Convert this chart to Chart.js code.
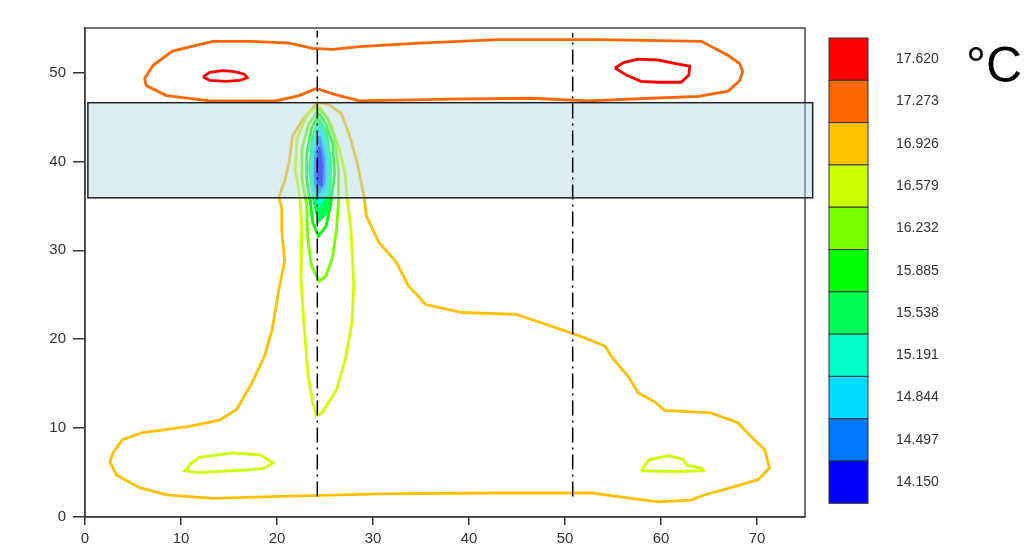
<!DOCTYPE html>
<html>
<head>
<meta charset="utf-8">
<script src="https://cdn.jsdelivr.net/npm/chart.js@4.4.1/dist/chart.umd.min.js"></script>
<style>
  body { margin: 0; background: #fff; }
  canvas { display: block; }
</style>
</head>
<body>
<canvas id="contourChart" width="1025" height="551"></canvas>
<script>
// temperature levels (°C), top to bottom as in the colour bar
const levels = ['17.620', '17.273', '16.926', '16.579', '16.232', '15.885', '15.538', '15.191', '14.844', '14.497', '14.150'];
const levelColors = ['#FF0000', '#FF6600', '#FFC000', '#CCFF00', '#77FF00', '#00FF00', '#00FF55', '#00FFC8', '#00DDFF', '#0077FF', '#0000FF'];

const xTicks = [0, 10, 20, 30, 40, 50, 60, 70];
const yTicks = [0, 10, 20, 30, 40, 50];

// measuring sections (dash-dot lines)
const sectionX = [24.2, 50.8];
const sectionY = [[2.3, 54.7], [2.3, 54.4]];

// shaded band
const bandX = [0.3, 75.8];
const bandY = [35.9, 46.6];

// contour traces, [x, y]
const top17273 = [[6.2, 49.3], [7.1, 50.8], [9.1, 52.4], [13.3, 53.5], [17.4, 53.5], [21.3, 53.3], [23.7, 52.7],
  [25.8, 52.6], [28.6, 52.9], [34.8, 53.3], [43.1, 53.7], [53.5, 53.7], [64.2, 53.5], [67.0, 51.9], [68.2, 51.0],
  [68.5, 50.1], [68.2, 49.1], [67.0, 47.9], [63.9, 47.3], [59.0, 47.1], [52.4, 46.8], [46.5, 47.1], [37.9, 47.0],
  [28.6, 46.8], [25.8, 47.6], [24.1, 48.2], [22.3, 47.4], [19.9, 46.8], [13.0, 46.8], [8.5, 47.4], [6.4, 48.5]];
const left17620 = [[12.3, 49.5], [13.0, 50.0], [14.3, 50.2], [15.6, 50.1], [16.6, 49.8], [16.9, 49.4], [16.1, 49.1],
  [14.7, 49.0], [13.0, 49.1]];
const right17620 = [[55.2, 50.5], [56.1, 51.1], [57.6, 51.5], [59.7, 51.4], [61.5, 51.0], [63.0, 50.7], [62.9, 49.7],
  [62.1, 48.9], [59.7, 48.9], [57.9, 49.0], [56.4, 49.7]];
const main16926 = [[24.2, 46.6], [22.6, 44.6], [21.6, 42.8], [21.3, 40.1], [20.8, 37.8], [20.2, 36.0], [20.5, 34.7],
  [20.5, 32.1], [20.8, 28.8], [20.2, 25.6], [19.5, 21.1], [18.7, 18.1], [17.4, 15.1], [15.8, 12.1], [14.0, 10.9],
  [10.9, 10.2], [6.0, 9.5], [3.9, 8.7], [2.9, 7.2], [2.6, 6.2], [3.3, 4.7], [5.7, 3.3], [8.5, 2.5], [13.3, 2.1],
  [19.5, 2.3], [30.6, 2.6], [43.1, 2.7], [52.8, 2.7], [56.9, 2.1], [59.7, 1.7], [63.1, 1.9], [64.6, 2.5], [67.3, 3.3],
  [70.1, 4.2], [71.3, 5.5], [70.8, 7.6], [69.9, 8.5], [68.0, 10.6], [65.2, 11.7], [60.4, 12.0], [59.4, 12.9],
  [57.6, 14.0], [56.6, 15.8], [54.8, 18.1], [54.2, 19.2], [52.4, 20.0], [50.4, 20.8], [44.9, 22.8], [39.3, 23.0],
  [35.5, 23.9], [33.7, 26.0], [32.4, 28.7], [30.6, 30.9], [29.3, 33.9], [29.1, 35.9], [28.3, 40.1], [27.5, 43.1],
  [26.7, 45.4], [25.4, 46.4]];
const left16579 = [[10.9, 5.9], [11.9, 6.7], [15.4, 7.2], [18.2, 7.0], [19.6, 6.1], [18.7, 5.5], [17.1, 5.3],
  [11.9, 5.0], [10.4, 5.2], [10.7, 5.5]];
const right16579 = [[57.9, 5.2], [58.7, 6.4], [60.7, 6.9], [62.3, 6.5], [62.7, 5.8], [64.2, 5.5], [64.4, 5.2], [61.8, 5.1]];
const plume16579 = [[24.4, 46.2], [23.2, 45.4], [22.1, 42.6], [21.9, 39.2], [22.4, 35.9], [22.6, 32.1], [22.5, 26.7],
  [22.8, 21.9], [23.2, 16.3], [23.7, 12.9], [24.1, 11.4], [24.7, 11.7], [26.2, 14.3], [27.2, 18.1], [27.8, 21.9],
  [28.0, 26.0], [27.7, 32.4], [27.3, 35.9], [27.1, 38.6], [26.5, 41.4], [25.6, 44.2]];
const plume16232 = [[24.4, 45.9], [23.3, 44.2], [22.6, 41.4], [22.6, 38.0], [23.1, 35.0], [23.2, 31.3], [23.6, 28.2],
  [24.4, 26.5], [25.1, 27.1], [25.8, 29.3], [26.2, 32.4], [26.4, 35.4], [26.4, 39.2], [26.0, 42.6], [25.2, 45.0]];
const plume15885 = [[24.4, 45.4], [23.6, 43.7], [23.1, 40.9], [23.1, 38.0], [23.5, 35.2], [23.7, 33.2], [24.3, 31.6],
  [25.1, 32.7], [25.6, 35.2], [26.0, 38.6], [25.8, 42.0], [25.1, 44.2]];
const plume15538 = [[24.4, 44.8], [23.7, 42.6], [23.4, 39.2], [23.8, 35.8], [24.3, 33.3], [25.1, 34.1], [25.5, 36.3],
  [25.6, 39.7], [25.2, 43.1]];
const plume15191 = [[24.4, 44.2], [23.8, 42.0], [23.6, 39.2], [23.8, 36.3], [24.4, 35.0], [25.2, 36.3], [25.4, 39.2], [25.1, 42.0]];
const plume14844 = [[24.4, 43.7], [23.9, 41.4], [23.8, 38.6], [24.1, 36.2], [24.8, 36.4], [25.2, 38.6], [25.0, 41.4]];
const plume14497 = [[24.4, 42.8], [24.0, 40.3], [24.0, 37.6], [24.4, 36.6], [24.9, 37.6], [24.9, 40.3]];
const plume14150 = [[24.4, 41.6], [24.2, 39.4], [24.3, 37.6], [24.6, 37.4], [24.7, 39.4]];

// outer to inner, level = index into levels
const contours = [
  { level: 1, pts: top17273 },
  { level: 0, pts: left17620 },
  { level: 0, pts: right17620 },
  { level: 2, pts: main16926 },
  { level: 3, pts: left16579 },
  { level: 3, pts: right16579 },
  { level: 3, pts: plume16579 },
  { level: 4, pts: plume16232 },
  { level: 5, pts: plume15885 },
  { level: 6, pts: plume15538, fill: true },
  { level: 7, pts: plume15191, fill: true },
  { level: 8, pts: plume14844, fill: true },
  { level: 9, pts: plume14497, fill: true },
  { level: 10, pts: plume14150, fill: true }
];

const font = 'Liberation Sans, Arial, sans-serif';

const sectionSets = sectionX.map((x, i) => ({
  data: sectionY[i].map(y => ({ x: x, y: y })),
  showLine: true,
  borderColor: '#000',
  borderWidth: 1.5,
  borderDash: [15, 5, 2, 5],
  pointRadius: 0,
  order: 0
}));

const contourSets = contours.map((c, i) => ({
  data: c.pts.concat([c.pts[0]]).map(p => ({ x: p[0], y: p[1] })),
  showLine: true,
  borderColor: levelColors[c.level],
  backgroundColor: levelColors[c.level],
  borderWidth: 2.8,
  pointRadius: 0,
  fill: c.fill ? 'shape' : false,
  order: 100 - i
}));

// band, frame and colour bar
const overlayPlugin = {
  id: 'overlay',
  beforeDatasetsDraw(chart) {
    const a = chart.chartArea, ctx = chart.ctx;
    ctx.save();
    ctx.strokeStyle = '#444';
    ctx.lineWidth = 1.5;
    ctx.strokeRect(a.left, a.top, a.right - a.left, a.bottom - a.top);
    ctx.restore();
  },
  beforeDatasetDraw(chart, args) {
    if (args.index !== 1) return;
    const xs = chart.scales.x, ys = chart.scales.y, ctx = chart.ctx;
    const x0 = xs.getPixelForValue(bandX[0]), x1 = xs.getPixelForValue(bandX[1]);
    const y0 = ys.getPixelForValue(bandY[1]), y1 = ys.getPixelForValue(bandY[0]);
    ctx.save();
    ctx.fillStyle = 'rgba(176, 216, 224, 0.45)';
    ctx.fillRect(x0, y0, x1 - x0, y1 - y0);
    ctx.strokeStyle = '#222';
    ctx.lineWidth = 1.5;
    ctx.strokeRect(x0, y0, x1 - x0, y1 - y0);
    ctx.restore();
  },
  afterDraw(chart) {
    const ctx = chart.ctx;
    const left = 829, top = 38, w = 39, h = 42.3;
    ctx.save();
    levels.forEach((lab, i) => {
      const y = top + i * h;
      ctx.fillStyle = levelColors[i];
      ctx.fillRect(left, y, w, h);
      ctx.strokeStyle = '#333';
      ctx.lineWidth = 1;
      ctx.strokeRect(left, y, w, h);
      ctx.fillStyle = '#333';
      ctx.font = '14px ' + font;
      ctx.textAlign = 'left';
      ctx.textBaseline = 'middle';
      ctx.fillText(lab, 896, y + h / 2);
    });
    ctx.fillStyle = '#000';
    ctx.font = '50px ' + font;
    ctx.textBaseline = 'middle';
    ctx.fillText('°C', 966, 68);
    ctx.restore();
  }
};

new Chart(document.getElementById('contourChart'), {
  type: 'scatter',
  data: { datasets: sectionSets.concat(contourSets) },
  options: {
    responsive: false,
    animation: false,
    layout: { padding: { left: 25, right: 220, top: 28, bottom: 0 } },
    plugins: { legend: { display: false }, tooltip: { enabled: false } },
    scales: {
      x: {
        type: 'linear', min: 0, max: 75,
        afterBuildTicks: s => { s.ticks = xTicks.map(v => ({ value: v })); },
        afterFit: s => { s.height = 34; },
        grid: { drawOnChartArea: false, drawTicks: true, tickLength: 8, color: '#333', lineWidth: 1.5 },
        border: { color: '#333', width: 1.5 },
        ticks: { color: '#333', font: { family: font, size: 15 }, padding: 5, maxRotation: 0 }
      },
      y: {
        type: 'linear', min: 0, max: 55,
        afterBuildTicks: s => { s.ticks = yTicks.map(v => ({ value: v })); },
        afterFit: s => { s.width = 60; },
        grid: { drawOnChartArea: false, drawTicks: true, tickLength: 12, color: '#333', lineWidth: 1.5 },
        border: { color: '#333', width: 1.5 },
        ticks: { color: '#333', font: { family: font, size: 15 }, padding: 7 }
      }
    }
  },
  plugins: [overlayPlugin]
});
</script>
</body>
</html>
